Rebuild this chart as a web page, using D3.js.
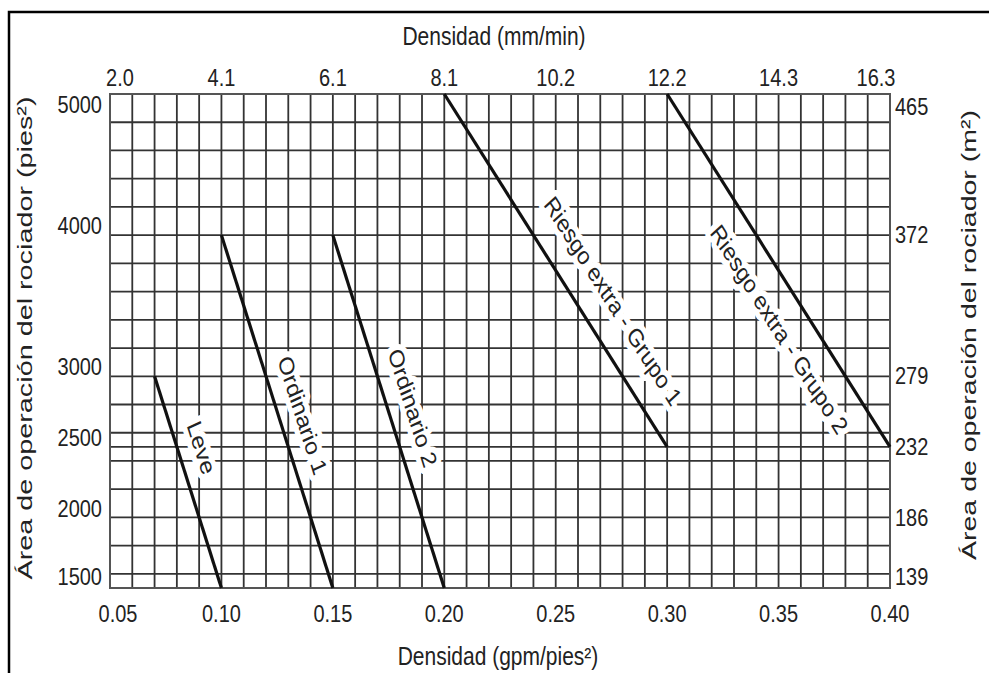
<!DOCTYPE html>
<html>
<head>
<meta charset="utf-8">
<script src="https://cdn.jsdelivr.net/npm/d3@7"></script>
<style>
  body { margin: 0; background: #fff; }
  text { font-family: "Liberation Sans", Arial, sans-serif; fill: #222; }
</style>
</head>
<body>
<div id="chart"></div>
<script>
// density (gpm/ft2) ticks on the bottom, and the same ticks in mm/min on top
var gpmTicks = [0.05, 0.10, 0.15, 0.20, 0.25, 0.30, 0.35, 0.40]
var mmTicks = ['2.0', '4.1', '6.1', '8.1', '10.2', '12.2', '14.3', '16.3']
// area (ft2) ticks on the left, the same in m2 on the right
var ftTicks = [1500, 2000, 2500, 3000, 4000, 5000]
var m2Ticks = ['139', '186', '232', '279', '372', '465']

// curves: density at start, area at start, density at end, area at end
var curveNames = ['Leve', 'Ordinario 1', 'Ordinario 2', 'Riesgo extra - Grupo 1', 'Riesgo extra - Grupo 2']
var curveDensity = [[0.07, 0.10], [0.10, 0.15], [0.15, 0.20], [0.20, 0.30], [0.30, 0.40]]
var curveArea = [[3000, 1500], [4000, 1500], [4000, 1500], [5000, 2500], [5000, 2500]]

var W = 989, H = 673,
	plot = {left: 110, right: 890, top: 94, bottom: 588},
	stretch = 1.2  // the scan is stretched vertically, so text is too

var svg = d3.select('#chart').append('svg')
	.attr('width', W)
	.attr('height', H)

var x = d3.scaleLinear().domain([0.05, 0.40]).range([plot.left, plot.right])
var y = d3.scaleLinear().domain([1500, 5000]).range([plot.bottom, plot.top])

// outer frame (top and left edges only, as in the scan)
svg.append('path')
	.attr('d', 'M9,' + H + 'V12H' + W)
	.attr('fill', 'none')
	.attr('stroke', '#000')
	.attr('stroke-width', 2.5)

// grid
var grid = svg.append('g')
var vLines = d3.range(5, 41).map(function(d) { return d / 100 })
var hLines = d3.range(1600, 5001, 200).concat([2500])

grid.selectAll('line.v')
	.data(vLines)
	.enter().append('line')
	.attr('class', 'v')
	.attr('x1', function(d) { return x(d) })
	.attr('x2', function(d) { return x(d) })
	.attr('y1', plot.top)
	.attr('y2', plot.bottom)
	.attr('stroke', '#333')
	.attr('stroke-width', 1.8)

grid.selectAll('line.h')
	.data(hLines)
	.enter().append('line')
	.attr('class', 'h')
	.attr('x1', plot.left)
	.attr('x2', plot.right)
	.attr('y1', function(d) { return y(d) })
	.attr('y2', function(d) { return y(d) })
	.attr('stroke', '#333')
	.attr('stroke-width', 1.8)

svg.append('rect')
	.attr('x', plot.left)
	.attr('y', plot.top)
	.attr('width', plot.right - plot.left)
	.attr('height', plot.bottom - plot.top)
	.attr('fill', 'none')
	.attr('stroke', '#555')
	.attr('stroke-width', 2)

// text helper: position, rotation, vertical stretch of the scan
function label(g, px, py, str, size, angle, anchor) {
	return g.append('text')
		.attr('transform', 'translate(' + px + ',' + py + ') scale(1,' + stretch + ') rotate(' + (angle || 0) + ')')
		.attr('text-anchor', anchor || 'middle')
		.attr('dominant-baseline', 'central')
		.style('font-size', size + 'px')
		.text(str)
}

function clamp(v, a, b) { return Math.max(a, Math.min(b, v)) }

var ticks = svg.append('g')

gpmTicks.forEach(function(d) {
	label(ticks, clamp(x(d), 118, 891), 614, d.toFixed(2), 20)
})
mmTicks.forEach(function(d, i) {
	label(ticks, clamp(x(gpmTicks[i]), 120, 876), 78, d, 20)
})
ftTicks.forEach(function(d) {
	label(ticks, 102, clamp(y(d) - 9, 105, 577), d, 20, 0, 'end')
})
m2Ticks.forEach(function(d, i) {
	label(ticks, 895, clamp(y(ftTicks[i]), 107, 577), d, 20, 0, 'start')
})

// axis titles
label(svg, 494, 36, 'Densidad (mm/min)', 21)
label(svg, 498, 656, 'Densidad (gpm/pies²)', 21)
svg.append('text')
	.attr('transform', 'translate(24,338) rotate(-90)')
	.attr('text-anchor', 'middle')
	.attr('dominant-baseline', 'central')
	.attr('textLength', 483)
	.attr('lengthAdjust', 'spacingAndGlyphs')
	.style('font-size', '21px')
	.text('Área de operación del rociador (pies²)')
svg.append('text')
	.attr('transform', 'translate(968,335) rotate(-90)')
	.attr('text-anchor', 'middle')
	.attr('dominant-baseline', 'central')
	.attr('textLength', 450)
	.attr('lengthAdjust', 'spacingAndGlyphs')
	.style('font-size', '21px')
	.text('Área de operación del rociador (m²)')

// curve labels: where along the line, which side, font size
var labelAt = [0.37, 0.53, 0.51, 0.635, 0.62]
var labelOff = [23, 23, 24, 32, -31]
var labelSize = [21, 21, 21, 21, 21]

var curves = svg.append('g')

curveNames.forEach(function(name, i) {
	var x0 = x(curveDensity[i][0]), y0 = y(curveArea[i][0]),
		x1 = x(curveDensity[i][1]), y1 = y(curveArea[i][1]),
		dx = x1 - x0, dy = y1 - y0,
		len = Math.sqrt(dx * dx + dy * dy),
		ux = dx / len, uy = dy / len,
		t = labelAt[i], off = labelOff[i],
		cx = x0 + dx * t + uy * off,
		cy = y0 + dy * t - ux * off,
		// angle before the vertical stretch so it ends up parallel to the line
		a = Math.atan2(dy / stretch, dx) * 180 / Math.PI

	curves.append('line')
		.attr('x1', x0).attr('y1', y0)
		.attr('x2', x1).attr('y2', y1)
		.attr('stroke', '#111')
		.attr('stroke-width', 3.2)

	label(curves, cx, cy, name, labelSize[i], a)
		.attr('stroke', '#fff')
		.attr('stroke-width', 10)
		.attr('stroke-linejoin', 'round')
		.attr('paint-order', 'stroke')
})
</script>
</body>
</html>
